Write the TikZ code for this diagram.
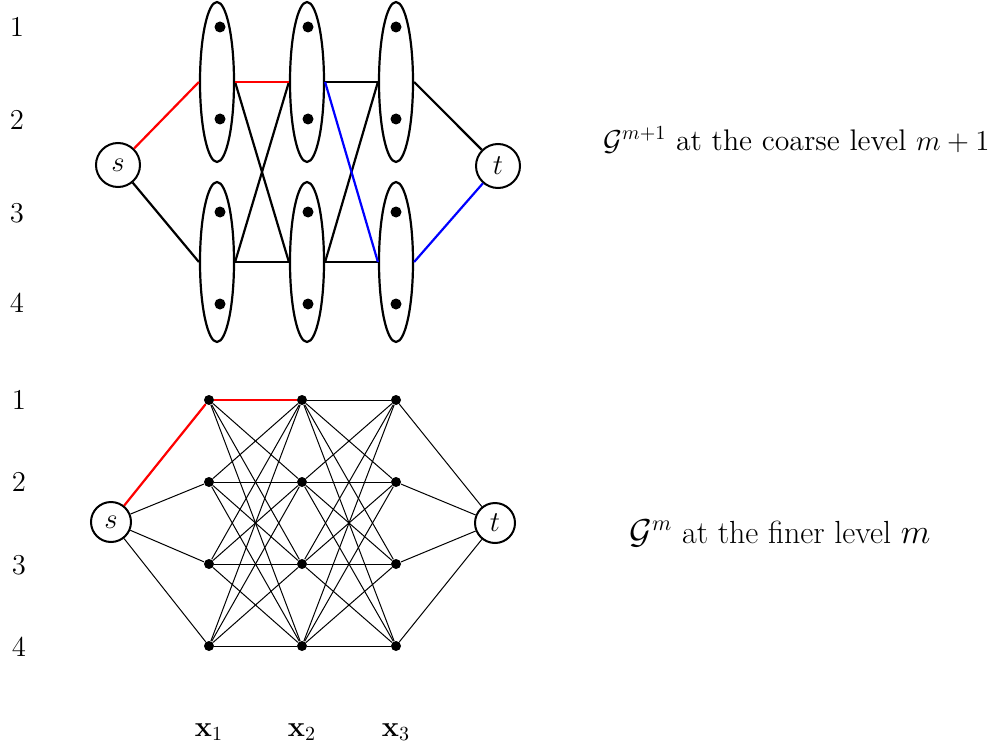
\documentclass[tikz,border=0pt]{standalone}
\usetikzlibrary{shapes.geometric}
\begin{document}
\begin{tikzpicture}[x=0.5pt,y=-0.5pt,
  grp/.style={ellipse,draw,line width=1.1pt,minimum width=17pt,minimum height=80pt,inner sep=0pt},
  term/.style={circle,draw,line width=1pt,minimum size=20pt,inner sep=0pt,font=\Large},
  bigterm/.style={term,minimum size=22pt},
  dotnode/.style={circle,fill,minimum size=5.5pt,inner sep=0pt},
  fdot/.style={circle,fill,minimum size=5pt,inner sep=0pt},
  coarse/.style={line width=1.1pt},
  fine/.style={line width=0.5pt},
  lbl/.style={inner sep=0pt,font=\Large}]
\useasboundingbox (0,0) rectangle (995,749);
% ---------- coarse level ----------
\node[bigterm] (s1) at (118,165) {$s$};
\node[bigterm] (t1) at (498,166) {$t$};
\foreach \i/\x/\d in {1/217/3,2/307/1,3/396/0}{
  \node[grp] (a\i) at (\x,82) {};
  \node[grp] (b\i) at (\x,262) {};
  \foreach \j/\y in {1/27,2/119,3/212,4/304}{
    \node[dotnode] (c\i\j) at (\x+\d,\y) {};
  }
}
\draw[coarse,red] (s1) -- (a1.west);
\draw[coarse] (s1) -- (b1.west);
\draw[coarse] (a1.east) -- (b2.west);
\draw[coarse] (b1.east) -- (a2.west);
\draw[coarse] (b1.east) -- (b2.west);
\draw[coarse,red] (a1.east) -- (a2.west);
\draw[coarse] (a2.east) -- (a3.west);
\draw[coarse] (b2.east) -- (a3.west);
\draw[coarse] (b2.east) -- (b3.west);
\draw[coarse,blue] (a2.east) -- (b3.west);
\draw[coarse] (a3.east) -- (t1);
\draw[coarse,blue] (b3.east) -- (t1);
% ---------- fine level ----------
\node[term] (s2) at (111,522) {$s$};
\node[term] (t2) at (495,523) {$t$};
\foreach \i/\x in {1/209,2/302,3/396}{
  \foreach \j/\y in {1/400,2/482,3/564,4/646}{
    \node[fdot] (n\i\j) at (\x,\y) {};
  }
}
\foreach \j in {1,2,3,4}{
  \draw[fine] (s2) -- (n1\j);
  \draw[fine] (n3\j) -- (t2);
  \foreach \k in {1,2,3,4}{
    \draw[fine] (n1\j) -- (n2\k);
    \draw[fine] (n2\j) -- (n3\k);
  }
}
\draw[coarse,red] (s2) -- (n11);
\draw[coarse,red] (n11) -- (n21);
% ---------- labels ----------
\foreach \j/\y in {1/27,2/120,3/213,4/303}{
  \node[lbl] (la\j) at (17,\y) {\j};
}
\foreach \j/\y in {1/400,2/482,3/565,4/647}{
  \node[lbl] (lb\j) at (19,\y) {\j};
}
\foreach \i/\x in {1/209,2/302,3/396}{
  \node[lbl] (xl\i) at (\x,732) {$\mathbf{x}_\i$};
}
\node[lbl,anchor=east,font=\fontsize{14.9}{18}\selectfont] (g1) at (990,140) {$\mathcal{G}^{m+1}$ at the coarse level $m+1$};
\node[lbl,font=\fontsize{16}{19}\selectfont] (g2) at (780,533) {$\mathcal{G}^{m}$ at the finer level $m$};
\end{tikzpicture}
\end{document}
